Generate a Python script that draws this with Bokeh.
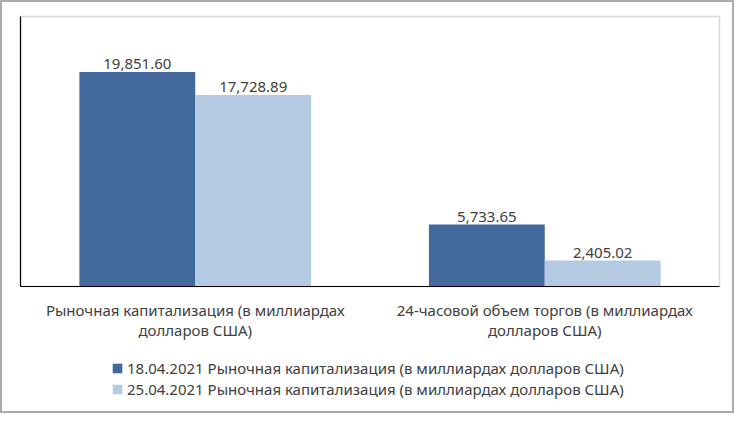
from bokeh.plotting import figure
from bokeh.layouts import column
from bokeh.models import ColumnDataSource, FactorRange, Range1d, FixedTicker, Legend, LegendItem
from bokeh.transform import dodge
from bokeh.core.properties import value
from bokeh.embed import file_html
from bokeh.resources import INLINE

categories = ["Рыночная капитализация (в миллиардах\nдолларов США)",
              "24-часовой объем торгов (в миллиардах\nдолларов США)"]
series_names = ["18.04.2021 Рыночная капитализация (в миллиардах долларов США)",
                "25.04.2021 Рыночная капитализация (в миллиардах долларов США)"]
values_0418 = [19851.60, 5733.65]
values_0425 = [17728.89, 2405.02]

colors = ["#43699C", "#B4C9E2"]
FONT = "Noto Sans"
TXT = "#404040"

source = ColumnDataSource(data=dict(
    cat=categories,
    v1=values_0418,
    v2=values_0425,
    l1=[f"{v:,.2f}" for v in values_0418],
    l2=[f"{v:,.2f}" for v in values_0425],
))

bw = 0.3315


def add_bars(fig):
    a = fig.vbar(x=dodge("cat", -bw / 2, range=fig.x_range), top="v1", width=bw,
                 source=source, fill_color=colors[0], line_color=None)
    b = fig.vbar(x=dodge("cat", bw / 2, range=fig.x_range), top="v2", width=bw,
                 source=source, fill_color=colors[1], line_color=None)
    return a, b


W = 730
H1, H2 = 345, 64

# main chart
p = figure(x_range=FactorRange(*categories), y_range=Range1d(0, 25000),
           width=W, height=H1, output_backend="svg", toolbar_location=None,
           min_border_left=18, min_border_right=13, min_border_top=14, min_border_bottom=61)
add_bars(p)

for col, off in (("1", -bw / 2), ("2", bw / 2)):
    p.text(x=dodge("cat", off, range=p.x_range), y="v" + col, text="l" + col, source=source,
           text_align="center", text_baseline="bottom", y_offset=-3,
           text_font=value(FONT), text_font_size="15px", text_color=TXT)

p.xgrid.visible = False
p.ygrid.visible = False
p.outline_line_color = "#d9d9d9"
p.outline_line_width = 1.5

p.yaxis.ticker = FixedTicker(ticks=[])
p.yaxis.major_tick_line_color = None
p.yaxis.minor_tick_line_color = None
p.yaxis.major_label_text_font_size = "0px"
p.yaxis.major_label_standoff = 0
p.yaxis.axis_line_color = "black"
p.yaxis.axis_line_width = 1.2

p.xaxis.major_tick_line_color = None
p.xaxis.minor_tick_line_color = None
p.xaxis.axis_line_color = "black"
p.xaxis.axis_line_width = 1.2
p.xaxis.major_label_text_font = FONT
p.xaxis.major_label_text_font_size = "15px"
p.xaxis.major_label_text_color = TXT
p.xaxis.major_label_text_line_height = 1.0
p.xaxis.major_label_standoff = 7

# legend strip (same bars, kept outside its visible range so only the legend shows)
q = figure(x_range=FactorRange(*categories), y_range=Range1d(30000, 40000),
           width=W, height=H2, output_backend="svg", toolbar_location=None,
           x_axis_location=None, y_axis_location=None,
           min_border_left=0, min_border_right=0, min_border_top=0, min_border_bottom=0)
q.xgrid.visible = False
q.ygrid.visible = False
q.outline_line_color = None
q.background_fill_color = "white"
q.border_fill_color = "white"
q_renderers = add_bars(q)

for name, rend, ypos in zip(series_names, q_renderers, (33, 12)):
    leg = Legend(items=[LegendItem(label=name, renderers=[rend])],
                 location=(91, ypos), orientation="vertical",
                 label_text_font=FONT, label_text_font_size="15px", label_text_color=TXT,
                 glyph_width=12, glyph_height=12, label_height=19, label_standoff=4,
                 spacing=0, padding=0, margin=0,
                 border_line_color=None, background_fill_color=None,
                 background_fill_alpha=0)
    q.add_layout(leg, "center")

layout = column(p, q, spacing=0)
layout.styles = {"border": "2px solid #ababab"}

open("out.html", "w").write(file_html(layout, INLINE))
